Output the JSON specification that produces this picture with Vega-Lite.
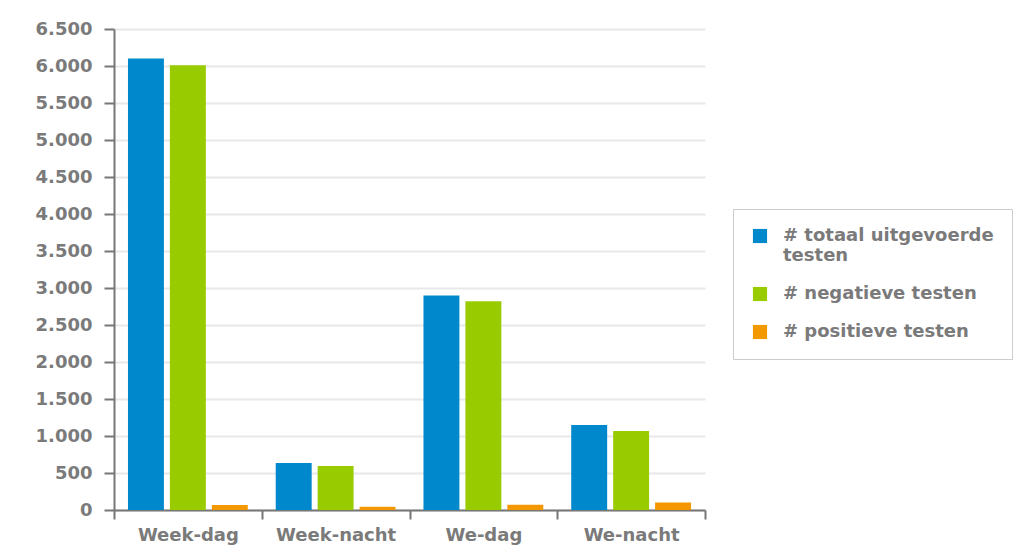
{
  "$schema": "https://vega.github.io/schema/vega-lite/v6.json",
  "width": 591,
  "height": 481,
  "autosize": {"type": "none"},
  "padding": {"left": 114, "top": 29, "right": 326, "bottom": 45},
  "background": "white",
  "data": {
    "values": [
      {"moment": "Week-dag", "reeks": "# totaal uitgevoerde testen", "aantal": 6100},
      {"moment": "Week-dag", "reeks": "# negatieve testen", "aantal": 6010},
      {"moment": "Week-dag", "reeks": "# positieve testen", "aantal": 68},
      {"moment": "Week-nacht", "reeks": "# totaal uitgevoerde testen", "aantal": 635},
      {"moment": "Week-nacht", "reeks": "# negatieve testen", "aantal": 595},
      {"moment": "Week-nacht", "reeks": "# positieve testen", "aantal": 45},
      {"moment": "We-dag", "reeks": "# totaal uitgevoerde testen", "aantal": 2900},
      {"moment": "We-dag", "reeks": "# negatieve testen", "aantal": 2820},
      {"moment": "We-dag", "reeks": "# positieve testen", "aantal": 72},
      {"moment": "We-nacht", "reeks": "# totaal uitgevoerde testen", "aantal": 1150},
      {"moment": "We-nacht", "reeks": "# negatieve testen", "aantal": 1068},
      {"moment": "We-nacht", "reeks": "# positieve testen", "aantal": 100}
    ]
  },
  "mark": {"type": "bar"},
  "encoding": {
    "x": {
      "field": "moment",
      "type": "nominal",
      "sort": ["Week-dag", "Week-nacht", "We-dag", "We-nacht"],
      "scale": {"paddingInner": 0, "paddingOuter": 0},
      "axis": {
        "title": null,
        "labelAngle": 0,
        "tickBand": "extent",
        "tickSize": 9,
        "tickColor": "#777777",
        "tickWidth": 2,
        "domainColor": "#777777",
        "domainWidth": 2,
        "labelFont": "DejaVu Sans",
        "labelFontWeight": "bold",
        "labelFontSize": 18,
        "labelColor": "#7a7a7a",
        "labelPadding": 7
      }
    },
    "xOffset": {
      "field": "reeks",
      "type": "nominal",
      "sort": ["# totaal uitgevoerde testen", "# negatieve testen", "# positieve testen"],
      "scale": {"paddingInner": 0.143, "paddingOuter": 0.333}
    },
    "y": {
      "field": "aantal",
      "type": "quantitative",
      "scale": {"domain": [0, 6500], "nice": false},
      "axis": {
        "title": null,
        "values": [0, 500, 1000, 1500, 2000, 2500, 3000, 3500, 4000, 4500, 5000, 5500, 6000, 6500],
        "labelExpr": "replace(format(datum.value, ','), ',', '.')",
        "tickSize": 10,
        "tickColor": "#777777",
        "tickWidth": 2,
        "domainColor": "#777777",
        "domainWidth": 2,
        "gridColor": "#e8e8e8",
        "gridWidth": 2,
        "labelFont": "DejaVu Sans",
        "labelFontWeight": "bold",
        "labelFontSize": 18,
        "labelColor": "#7a7a7a",
        "labelPadding": 12
      }
    },
    "color": {
      "field": "reeks",
      "type": "nominal",
      "sort": ["# totaal uitgevoerde testen", "# negatieve testen", "# positieve testen"],
      "scale": {
        "domain": ["# totaal uitgevoerde testen", "# negatieve testen", "# positieve testen"],
        "range": ["#0088cc", "#99cc00", "#f39800"]
      },
      "legend": {
        "title": null,
        "orient": "none",
        "legendX": 619,
        "legendY": 180,
        "symbolType": "square",
        "symbolSize": 200,
        "symbolStrokeWidth": 0,
        "labelExpr": "datum.label == '# totaal uitgevoerde testen' ? ['# totaal uitgevoerde', 'testen'] : datum.label",
        "labelFont": "DejaVu Sans",
        "labelFontWeight": "bold",
        "labelFontSize": 18,
        "labelColor": "#7a7a7a",
        "labelLimit": 300,
        "labelOffset": 14,
        "rowPadding": 20,
        "padding": 18,
        "strokeColor": "#cccccc",
        "fillColor": "white",
        "cornerRadius": 0
      }
    }
  },
  "config": {
    "view": {"stroke": null},
    "axis": {"gridDash": []}
  }
}
